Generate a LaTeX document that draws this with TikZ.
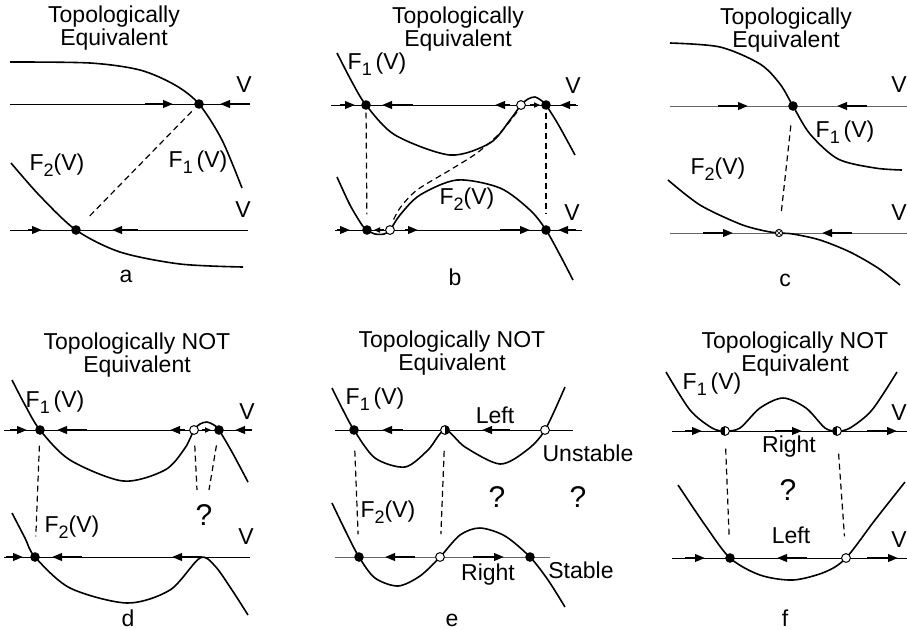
\documentclass[tikz,border=0pt]{standalone}
\usepackage{fontspec}
\setmainfont{Liberation Sans}
\usetikzlibrary{arrows.meta}
\newcommand{\fsub}[1]{\raisebox{-0.5ex}{\fontsize{9}{9}\selectfont #1}}

\begin{document}
\begin{tikzpicture}[x=0.5pt, y=-0.5pt,
  every node/.style={font=\fontsize{11.5}{11.5}\selectfont, inner sep=0pt},
  axis/.style={line width=0.5pt},
  curve/.style={line width=0.8pt},
  link/.style={line width=0.6pt, dash pattern=on 3pt off 2pt},
  vflow/.style={line width=1pt, -{Triangle[length=5pt,width=3.8pt]}},
  vflowsmall/.style={line width=0.8pt, -{Triangle[length=3pt,width=2.6pt]}},
  sdot/.style={circle, fill, inner sep=0pt, minimum size=4.8pt},
  udot/.style={circle, draw, fill=white, line width=0.5pt, inner sep=0pt, minimum size=4.4pt},
  hdotr/.style={udot, path picture={\fill[black] (path picture bounding box.north) rectangle (path picture bounding box.south east);}},
  hdotl/.style={udot, path picture={\fill[black] (path picture bounding box.north west) rectangle (path picture bounding box.south);}},
  xdot/.style={udot, minimum size=3.6pt, path picture={\draw[black, line width=0.3pt] (path picture bounding box.north west) -- (path picture bounding box.south east) (path picture bounding box.south west) -- (path picture bounding box.north east);}},
  quest/.style={font=\fontsize{15}{15}\selectfont},
  title/.style={align=center}]
  \useasboundingbox (0,0) rectangle (907,629);

  % ---- a ----
  \node[title] (ta) at (114,28) {Topologically\\Equivalent};
  \draw[axis] (10,104) -- (250,104);
  \draw[axis] (10,230) -- (248,230);
  \draw[curve] plot[smooth] coordinates {(10,62) (90,63) (140,70) (175,85) (199,104) (222,140) (242,188)};
  \draw[curve] plot[smooth] coordinates {(11,163) (40,196) (76,230) (120,252) (180,264) (243,267)};
  \draw[vflow] (145,104) -- (173,104);
  \draw[vflow] (250,104) -- (220,104);
  \draw[vflow] (28,230) -- (42,230);
  \draw[vflow] (138,230) -- (112,230);
  \node[sdot] (a1) at (199,104) {};
  \node[sdot] (a2) at (76,230) {};
  \draw[link, shorten <=2.6pt, shorten >=6.2pt] (a1) -- (a2);
  \node (aV1) at (244,85) {V};
  \node (aV2) at (243,210) {V};
  \node (aF1) at (198,162) {F\fsub{1}\,(V)};
  \node (aF2) at (57,165) {F\fsub{2}(V)};
  \node (la) at (126,276) {a};

  % ---- b ----
  \node[title] (tb) at (458,29) {Topologically\\Equivalent};
  \draw[axis] (331,105) -- (578,105);
  \draw[axis] (335,230) -- (582,230);
  \draw[curve] plot[smooth] coordinates {(337,53) (352,82) (366,105) (395,135) (450,155) (490,143) (510,120) (521,105) (528,99) (535,97) (542,101) (546,105) (558,124) (575,155)};
  \draw[curve] plot[smooth] coordinates {(337,177) (350,205) (362,225) (367,230) (375,234) (384,234) (390,230) (400,215) (420,195) (457,180) (500,188) (530,210) (546,230) (560,255) (573,280)};
  \draw[link] plot[smooth] coordinates {(517,112) (500,133) (477,153) (450,170) (417,190) (400,208) (392,223)};
  \draw[vflow] (340,105) -- (355,105);
  \draw[vflow] (413,105) -- (382,105);
  \draw[vflow] (510,105) -- (495,105);
  \draw[vflowsmall] (530,105) -- (540,105);
  \draw[vflow] (576,105) -- (560,105);
  \draw[vflow] (337,230) -- (350,230);
  \draw[vflowsmall] (384,230) -- (374,230);
  \draw[vflow] (405,230) -- (418,230);
  \draw[vflow] (500,230) -- (530,230);
  \draw[vflow] (576,230) -- (558,230);
  \node[sdot] (b1) at (366,105) {};
  \node[udot] (b2) at (521,105) {};
  \node[sdot] (b3) at (546,105) {};
  \node[sdot] (b4) at (367,230) {};
  \node[udot] (b5) at (390,230) {};
  \node[sdot] (b6) at (546,230) {};
  \draw[link, shorten <=1.2pt, shorten >=5.2pt] (b1) -- (b4);
  \draw[link, shorten <=1.2pt, shorten >=5.2pt] (b3) -- (b6);
  \node (bF1) at (377,64) {F\fsub{1}\,(V)};
  \node (bF2) at (467,199) {F\fsub{2}(V)};
  \node (bV1) at (573,86) {V};
  \node (bV2) at (572,213) {V};
  \node (lb) at (455,277) {b};

  % ---- c ----
  \node[title] (tc) at (786,30) {Topologically\\Equivalent};
  \draw[axis, black!60] (670,106) -- (907,106);
  \draw[axis, black!60] (670,233) -- (907,233);
  \draw[curve] plot[smooth] coordinates {(670,43) (720,47) (760,64) (780,84) (793,106) (810,134) (838,159) (875,168) (902,170)};
  \draw[curve] plot[smooth] coordinates {(668,180) (700,205) (740,224) (765,231) (779,233) (793,234) (820,240) (850,252) (878,268) (900,285)};
  \draw[vflow] (718,106) -- (748,106);
  \draw[vflow] (867,106) -- (837,106);
  \draw[vflow] (703,233) -- (733,233);
  \draw[vflow] (852,233) -- (822,233);
  \node[sdot] (c1) at (793,106) {};
  \node[xdot] (c2) at (779,233) {};
  \draw[link, shorten <=7.2pt, shorten >=8.3pt] (c1) -- (c2);
  \node (cF1) at (845,132) {F\fsub{1}\,(V)};
  \node (cF2) at (718,169) {F\fsub{2}(V)};
  \node (cV1) at (899,85) {V};
  \node (cV2) at (899,213) {V};
  \node (lc) at (785,280) {c};

  % ---- d ----
  \node[title] (td) at (137,355) {Topologically NOT\\Equivalent};
  \draw[axis] (4,430) -- (252,430);
  \draw[axis] (4,557) -- (250,557);
  \draw[curve] plot[smooth] coordinates {(12,380) (25,405) (40,430) (70,460) (123,481) (165,470) (185,448) (194,430) (200,424) (207,422) (214,425) (219,430) (232,452) (248,482)};
  \draw[curve] plot[smooth] coordinates {(12,513) (25,538) (35,557) (70,588) (127,603) (170,590) (200,558) (215,566) (232,590) (248,615)};
  \draw[vflow] (10,430) -- (27,430);
  \draw[vflow] (87,430) -- (57,430);
  \draw[vflow] (185,430) -- (170,430);
  \draw[vflowsmall] (202,430) -- (211,430);
  \draw[vflow] (252,430) -- (235,430);
  \draw[vflow] (6,557) -- (23,557);
  \draw[vflow] (82,557) -- (52,557);
  \draw[vflow] (202,557) -- (172,557);
  \node[sdot] (d1) at (40,430) {};
  \node[udot] (d2) at (194,430) {};
  \node[sdot] (d3) at (219,430) {};
  \node[sdot] (d4) at (35,557) {};
  \coordinate (dq1) at (197,490);
  \coordinate (dq2) at (209,490);
  \draw[link, shorten <=5.2pt, shorten >=7.7pt] (d1) -- (d4);
  \draw[link, shorten <=5.4pt] (d2) -- (dq1);
  \draw[link, shorten <=5.2pt] (d3) -- (dq2);
  \node[quest] (dQ) at (204,515) {?};
  \node (dF1) at (55,402) {F\fsub{1}\,(V)};
  \node (dF2) at (72,527) {F\fsub{2}(V)};
  \node (dV1) at (247,412) {V};
  \node (dV2) at (246,537) {V};
  \node (ld) at (128,618) {d};

  % ---- e ----
  \node[title] (te) at (452,353) {Topologically NOT\\Equivalent};
  \draw[axis] (335,430) -- (573,430);
  \draw[axis, black!60] (335,557) -- (550,557);
  \draw[curve] plot[smooth] coordinates {(332,388) (343,410) (354,430) (375,458) (405,467) (428,450) (445,430) (465,447) (500,464) (527,450) (545,430) (565,387)};
  \draw[curve] plot[smooth] coordinates {(332,503) (345,530) (359,557) (375,578) (398,586) (420,576) (440,557) (460,535) (480,528) (505,536) (530,557) (548,580) (565,607)};
  \draw[vflow] (403,430) -- (382,430);
  \draw[vflow] (510,430) -- (482,430);
  \draw[vflow] (415,557) -- (385,557);
  \draw[vflow] (473,557) -- (504,557);
  \node[sdot] (e1) at (354,430) {};
  \node[hdotr] (e2) at (445,430) {};
  \node[udot] (e3) at (545,430) {};
  \node[sdot] (e4) at (359,557) {};
  \node[udot] (e5) at (440,557) {};
  \node[sdot] (e6) at (530,557) {};
  \draw[link, shorten <=7.7pt, shorten >=8.7pt] (e1) -- (e4);
  \draw[link, shorten <=8pt, shorten >=9pt] (e2) -- (e5);
  \node (eF1) at (375,399) {F\fsub{1}\,(V)};
  \node (eF2) at (388,512) {F\fsub{2}(V)};
  \node (eL) at (495,415) {Left};
  \node (eR) at (488,575) {Right};
  \node (eU) at (588,453) {Unstable};
  \node (eS) at (581,570) {Stable};
  \node[quest] (eQ1) at (497,497) {?};
  \node[quest] (eQ2) at (578,497) {?};
  \node (le) at (452,620) {e};

  % ---- f ----
  \node[title] (tf) at (795,354) {Topologically NOT\\Equivalent};
  \draw[axis] (672,431) -- (907,431);
  \draw[axis] (672,558) -- (907,558);
  \draw[curve] plot[smooth] coordinates {(666,372) (690,410) (712,428) (725,431) (740,428) (760,408) (783,398) (806,408) (825,428) (837,431) (850,428) (872,410) (897,372)};
  \draw[curve] plot[smooth] coordinates {(678,485) (705,525) (730,558) (760,575) (793,580) (825,572) (846,558) (875,520) (905,482)};
  \draw[vflow] (685,431) -- (702,431);
  \draw[vflow] (775,431) -- (802,431);
  \draw[vflow] (867,431) -- (897,431);
  \draw[vflow] (685,558) -- (705,558);
  \draw[vflow] (807,558) -- (777,558);
  \draw[vflow] (867,558) -- (898,558);
  \node[hdotl] (f1) at (725,431) {};
  \node[hdotl] (f2) at (837,431) {};
  \node[sdot] (f3) at (730,558) {};
  \node[udot] (f4) at (846,558) {};
  \draw[link, shorten <=6.4pt, shorten >=7.7pt] (f1) -- (f3);
  \draw[link, shorten <=8.9pt, shorten >=8.4pt] (f2) -- (f4);
  \node (fF1) at (712,384) {F\fsub{1}\,(V)};
  \node (fR) at (789,447) {Right};
  \node (fL) at (791,535) {Left};
  \node[quest] (fQ) at (788,490) {?};
  \node (fV1) at (899,413) {V};
  \node (fV2) at (899,540) {V};
  \node (lf) at (785,618) {f};
\end{tikzpicture}
\end{document}
